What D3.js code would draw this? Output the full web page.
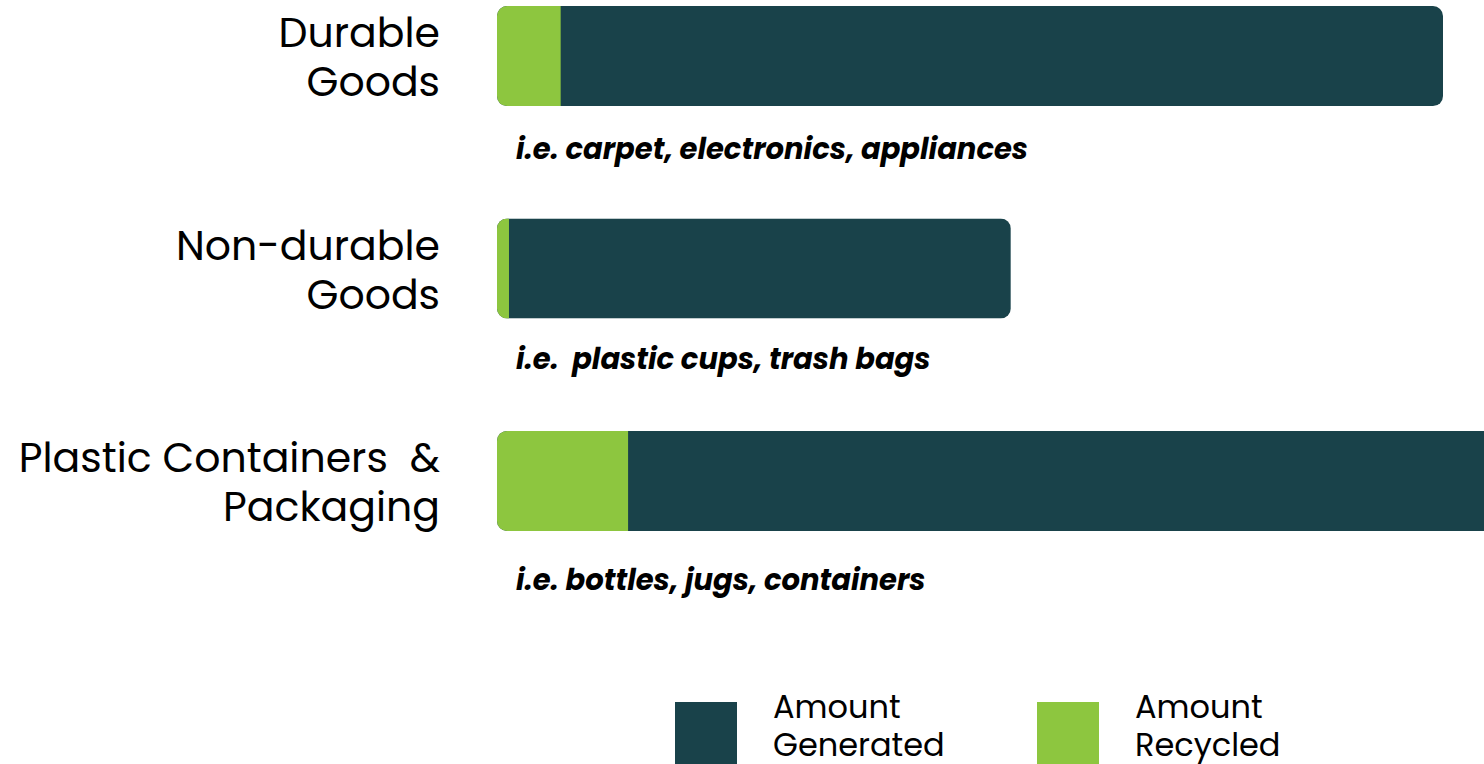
<!DOCTYPE html>
<html>
<head>
<meta charset="utf-8">
<script src="https://cdn.jsdelivr.net/npm/d3@7"></script>
<style>
  html, body { margin: 0; padding: 0; background: #fff; overflow: hidden; }
  svg { display: block; font-family: Poppins, "Open Sans", sans-serif; }
</style>
</head>
<body>
<svg width="1484" height="764"></svg>
<script>
// data, million tons
var categories = ["Durable Goods", "Non-durable Goods", "Plastic Containers & Packaging"];
var labelLines = [["Durable", "Goods"], ["Non-durable", "Goods"], ["Plastic Containers  &", "Packaging"]];
var examples = ["i.e. carpet, electronics, appliances", "i.e.  plastic cups, trash bags", "i.e. bottles, jugs, containers"];
var generated = [12.63, 6.86, 14.5];
var recycled = [0.85, 0.16, 1.75];
var legendLabels = [["Amount", "Generated"], ["Amount", "Recycled"]];

var dark = "#19424a", green = "#8dc63f";

var svg = d3.select("svg");

var x = d3.scaleLinear().domain([0, 12.63]).range([497, 1443]);
var y = d3.scaleBand().domain(categories).range([6, 531]).paddingInner(0.529).paddingOuter(0);

var rows = svg.selectAll("g.row")
    .data(categories)
    .enter().append("g")
    .attr("class", "row");

// clip each bar to a rounded rect
rows.append("clipPath")
    .attr("id", function (d, i) { return "clip" + i })
    .append("rect")
    .attr("x", x(0))
    .attr("y", function (d) { return y(d) })
    .attr("width", function (d, i) { return x(generated[i]) - x(0) })
    .attr("height", y.bandwidth())
    .attr("rx", 10);

var bars = rows.append("g")
    .attr("clip-path", function (d, i) { return "url(#clip" + i + ")" });

bars.append("rect")
    .attr("x", x(0))
    .attr("y", function (d) { return y(d) })
    .attr("width", function (d, i) { return x(generated[i]) - x(0) })
    .attr("height", y.bandwidth())
    .attr("fill", dark);

bars.append("rect")
    .attr("x", x(0))
    .attr("y", function (d) { return y(d) })
    .attr("width", function (d, i) { return x(recycled[i]) - x(0) })
    .attr("height", y.bandwidth())
    .attr("fill", green);

// category labels, two lines, right aligned
rows.append("text")
    .attr("text-anchor", "end")
    .attr("font-size", 41)
    .attr("fill", "#000")
    .style("white-space", "pre")
    .selectAll("tspan")
    .data(function (d, i) { return labelLines[i].map(function (t, j) { return {t: t, j: j, c: d} }) })
    .enter().append("tspan")
    .attr("x", 440)
    .attr("y", function (e) { return y(e.c) + y.bandwidth() / 2 - 9 + e.j * 49 })
    .text(function (e) { return e.t });

var exOffset = [43, 40, 49];
rows.append("text")
    .attr("x", 516)
    .attr("y", function (d, i) { return y(d) + y.bandwidth() + exOffset[i] + 10 })
    .attr("font-size", 29)
    .attr("font-weight", "bold")
    .attr("font-style", "italic")
    .attr("fill", "#000")
    .style("white-space", "pre")
    .text(function (d, i) { return examples[i] });

// legend
var legendX = [675, 1037];
var legend = svg.selectAll("g.legend")
    .data([dark, green])
    .enter().append("g")
    .attr("class", "legend")
    .attr("transform", function (d, i) { return "translate(" + legendX[i] + ",702)" });

legend.append("rect")
    .attr("width", 62)
    .attr("height", 70)
    .attr("fill", function (d) { return d });

legend.append("text")
    .attr("font-size", 32)
    .attr("fill", "#000")
    .selectAll("tspan")
    .data(function (d, i) { return legendLabels[i] })
    .enter().append("tspan")
    .attr("x", 98)
    .attr("y", function (t, j) { return 16 + j * 38 })
    .text(function (t) { return t });
</script>
</body>
</html>
